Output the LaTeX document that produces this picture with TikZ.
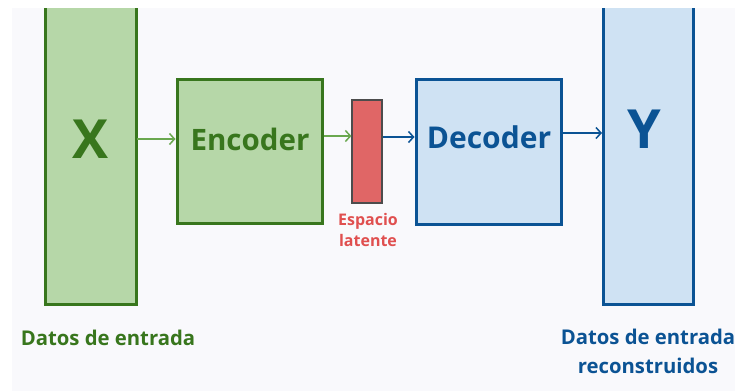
\documentclass[tikz,border=0pt]{standalone}
\usepackage{fontspec}
\setmainfont{Open Sans}
\usetikzlibrary{arrows.meta}
\definecolor{gfill}{HTML}{B6D7A8}
\definecolor{gdraw}{HTML}{38761D}
\definecolor{garrow}{HTML}{6AA84F}
\definecolor{bfill}{HTML}{CFE2F3}
\definecolor{bdraw}{HTML}{0B5394}
\definecolor{rfill}{HTML}{E06666}
\definecolor{rtext}{HTML}{E04F4F}
\definecolor{bg}{HTML}{F9F9FC}
\tikzset{
  gbox/.style={draw=gdraw,fill=gfill,line width=3pt},
  bbox/.style={draw=bdraw,fill=bfill,line width=3pt},
  lbox/.style={draw=black!70,fill=rfill,line width=1.2pt},
  conn/.style={line width=1.5pt,-{Straight Barb[length=5pt,width=11pt,line width=1.5pt]}},
  lbl/.style={inner sep=0pt,font=\bfseries,align=center},
}
\begin{document}
\begin{tikzpicture}[x=1pt,y=-1pt]
\useasboundingbox (0,0) rectangle (735,391);
\fill[white] (0,0) rectangle (735,391);
\fill[bg] (12,8) rectangle (735,391);
\begin{scope}
\clip (12,8) rectangle (735,391);
\draw[gbox] (45,-20) rectangle (136,304);
\draw[bbox] (603,-20) rectangle (693,304);
\end{scope}
\coordinate (xr) at (137,139);
\coordinate (yl) at (602,133);
\node[lbl,text=gdraw,font=\bfseries\fontsize{54}{54}\selectfont] (X) at (91,139) {X};
\node[lbl,text=bdraw,font=\bfseries\fontsize{54}{54}\selectfont] (Y) at (644,129) {Y};
\node[gbox,minimum width=145pt,minimum height=144pt,inner sep=0pt] (enc) at (249.5,151) {};
\node[lbl,text=gdraw,font=\bfseries\fontsize{29.5}{29.5}\selectfont] (enct) at (250,139) {Encoder};
\node[lbox,minimum width=30pt,minimum height=103pt,inner sep=0pt] (lat) at (367,151.5) {};
\node[bbox,minimum width=145pt,minimum height=145pt,inner sep=0pt] (dec) at (488.5,151.5) {};
\node[lbl,text=bdraw,font=\bfseries\fontsize{30}{30}\selectfont] (dect) at (489,137) {Decoder};
\node[lbl,text=rtext,font=\bfseries\fontsize{16}{21}\selectfont] (latt) at (368,230) {Espacio\\latente};
\node[lbl,text=gdraw,font=\bfseries\fontsize{20.3}{20}\selectfont] (din) at (108,338) {Datos de entrada};
\node[lbl,text=bdraw,font=\bfseries\fontsize{20.3}{29}\selectfont] (dout) at (648,351) {Datos de entrada\\reconstruidos};
\draw[conn,garrow] (xr) -- (enc.west |- xr);
\draw[conn,garrow] (enc.east |- 0,136) -- (lat.west |- 0,136);
\draw[conn,bdraw] (lat.east |- 0,137) -- (dec.west |- 0,137);
\draw[conn,bdraw] (dec.east |- yl) -- (yl);
\end{tikzpicture}
\end{document}
